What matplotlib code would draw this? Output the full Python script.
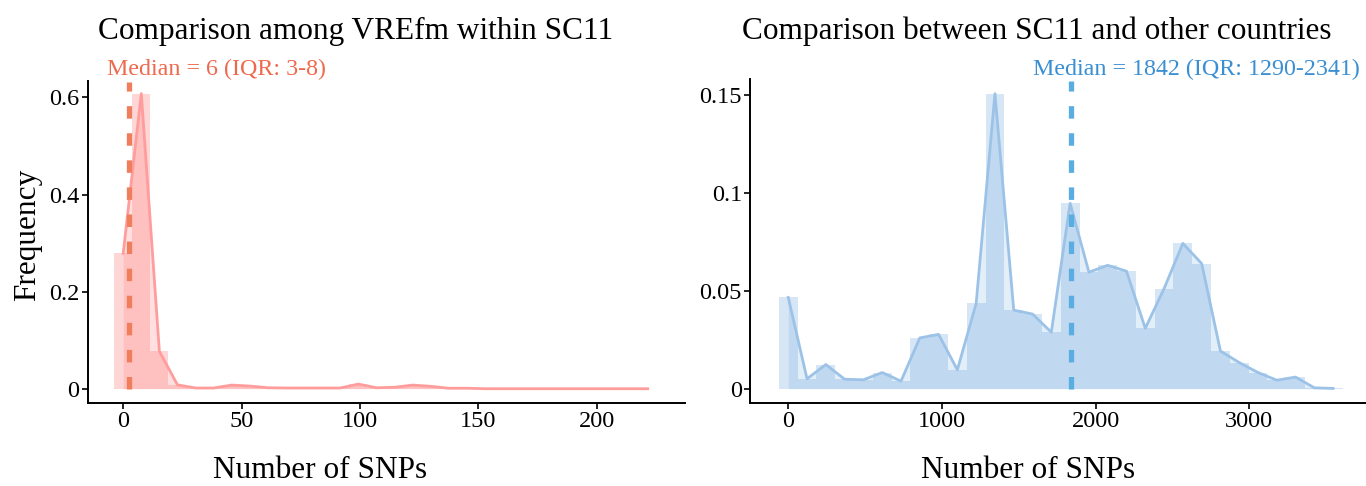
import matplotlib
matplotlib.use("Agg")
import matplotlib.pyplot as plt
from matplotlib.ticker import FixedLocator, FixedFormatter

plt.rcParams['font.family'] = ['Liberation Serif', 'DejaVu Serif']
plt.rcParams['lines.scale_dashes'] = False

# ---- data ----
left_x = [0, 7.64, 15.28, 22.92, 30.56, 38.2, 45.84, 53.48, 61.12, 68.76, 76.4, 84.04,
          91.68, 99.32, 106.96, 114.6, 122.24, 129.88, 137.52, 145.16, 152.8, 160.44,
          168.08, 175.72, 183.36, 191.0, 198.64, 206.28, 213.92, 221.56]
left_freq = [0.279, 0.608, 0.077, 0.008, 0.0015, 0.0015, 0.0075, 0.0055, 0.002, 0.0015,
             0.0015, 0.0015, 0.0015, 0.0095, 0.002, 0.003, 0.0075, 0.005, 0.001, 0.001,
             0, 0, 0, 0, 0, 0, 0, 0, 0, 0]
right_x = [0, 122.3, 244.6, 366.9, 489.2, 611.5, 733.8, 856.1, 978.4, 1100.7, 1223.0,
           1345.3, 1467.6, 1589.9, 1712.2, 1834.5, 1956.8, 2079.1, 2201.4, 2323.7, 2446.0,
           2568.3, 2690.6, 2812.9, 2935.2, 3057.5, 3179.8, 3302.1, 3424.4, 3546.7]
right_freq = [0.0467, 0.0051, 0.0124, 0.0049, 0.0046, 0.0083, 0.0039, 0.026, 0.0278,
              0.0097, 0.0436, 0.1508, 0.0402, 0.0382, 0.0289, 0.0948, 0.0596, 0.0631,
              0.0601, 0.0309, 0.0512, 0.0743, 0.064, 0.0193, 0.0134, 0.0083, 0.0044,
              0.006, 0.0005, 0.0002]
left_median_line = 2.4
right_median_line = 1842
left_title = "Comparison among VREfm within SC11"
right_title = "Comparison between SC11 and other countries"
left_note = "Median = 6 (IQR: 3-8)"
right_note = "Median = 1842 (IQR: 1290-2341)"
left_xticks = [0, 50, 100, 150, 200]
left_yticks = [0, 0.2, 0.4, 0.6]
left_ylabels = ["0", "0.2", "0.4", "0.6"]
right_xticks = [0, 1000, 2000, 3000]
right_yticks = [0, 0.05, 0.1, 0.15]
right_ylabels = ["0", "0.05", "0.1", "0.15"]

W, H = 1366, 486
fig = plt.figure(figsize=(W / 100, H / 100), dpi=100)

def fx(px):
    return px / W

def fy(py):
    return 1 - py / H

axL = fig.add_axes([fx(87.7), fy(402.7), fx(685) - fx(87.7), fy(80.5) - fy(402.7)])
axR = fig.add_axes([fx(750.3), fy(402.7), fx(1365.5) - fx(750.3), fy(79) - fy(402.7)])

def style(ax, xticks, yticks, ylabels):
    for s in ['top', 'right']:
        ax.spines[s].set_visible(False)
    for s in ['left', 'bottom']:
        ax.spines[s].set_linewidth(1.4)
        ax.spines[s].set_color('black')
    ax.xaxis.set_major_locator(FixedLocator(xticks))
    ax.xaxis.set_major_formatter(FixedFormatter([str(t) for t in xticks]))
    ax.yaxis.set_major_locator(FixedLocator(yticks))
    ax.yaxis.set_major_formatter(FixedFormatter(ylabels))
    ax.tick_params(axis='both', direction='out', length=4, width=1.2, labelsize=17.5,
                   pad=2, colors='black')

def draw(ax, xs, ys, bar_col, bar_alpha, fill_alpha, line_col):
    width = xs[1] - xs[0]
    ax.bar(xs, ys, width=width, color=bar_col, alpha=bar_alpha, linewidth=0, zorder=1)
    ax.fill_between(xs, ys, 0, color=bar_col, alpha=fill_alpha, linewidth=0, zorder=2)
    ax.plot(xs, ys, color=line_col, lw=2.0, zorder=3, solid_joinstyle='round')

draw(axL, left_x, left_freq, (1.0, 0.51, 0.51), 0.32, 0.25, '#ff9d9d')
draw(axR, right_x, right_freq, (0.39, 0.63, 0.86), 0.26, 0.18, '#9cc3e7')

axL.set_xlim(-15.0, 237.3)
axL.set_ylim(-0.0288, 0.635)
axR.set_xlim(-247, 3757)
axR.set_ylim(-0.0071, 0.1583)

style(axL, left_xticks, left_yticks, left_ylabels)
style(axR, right_xticks, right_yticks, right_ylabels)

# median dashed lines
lnL, = axL.plot([left_median_line, left_median_line], [0, 0.632], color='#ef7f5c',
                lw=3.8, zorder=4, clip_on=False)
lnL.set_dashes([9, 10.5])
lnR, = axR.plot([right_median_line, right_median_line], [0, 0.1575], color='#5aade0',
                lw=3.8, zorder=4, clip_on=False)
lnR.set_dashes([9, 10.5])

# titles and annotations
fig.text(fx(355.5), fy(39), left_title, ha='center', va='baseline', fontsize=22.5, color='black')
fig.text(fx(1036.5), fy(39), right_title, ha='center', va='baseline', fontsize=22.5, color='black')
fig.text(fx(107), fy(75), left_note, ha='left', va='baseline', fontsize=17.3, color='#ee6a4e')
fig.text(fx(1360), fy(75), right_note, ha='right', va='baseline', fontsize=17.3, color='#3a8ed2')

fig.text(fx(320), fy(478), "Number of SNPs", ha='center', va='baseline', fontsize=22.5)
fig.text(fx(1028), fy(478), "Number of SNPs", ha='center', va='baseline', fontsize=22.5)
fig.text(fx(28), fy(235), "Frequency", ha='center', va='center', rotation=90, fontsize=22.5)

fig.savefig("out.png", dpi=100)
